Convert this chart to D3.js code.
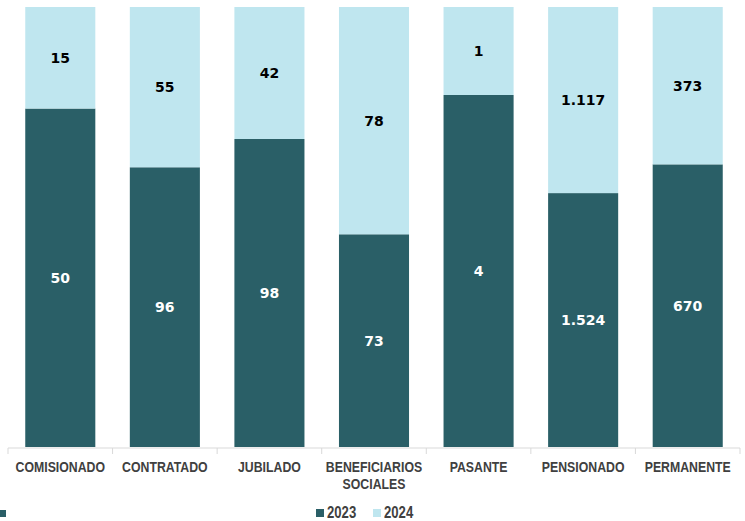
<!DOCTYPE html>
<html>
<head>
<meta charset="utf-8">
<script src="https://cdn.jsdelivr.net/npm/d3@7"></script>
<style>
  body { margin: 0; background: #fff; }
  svg { display: block; }
</style>
</head>
<body>
<script>
var width = 745;
var height = 521;

var categories = ['COMISIONADO', 'CONTRATADO', 'JUBILADO', 'BENEFICIARIOS SOCIALES', 'PASANTE', 'PENSIONADO', 'PERMANENTE'];
var values2023 = [50, 96, 98, 73, 4, 1524, 670];
var values2024 = [15, 55, 42, 78, 1, 1117, 373];
var seriesNames = ['2023', '2024'];
var colors = ['#2a5f67', '#bfe6ef'];

var fmt = function(v) { return d3.format(',')(v).replace(/,/g, '.'); };

var rows = categories.map(function(c, i) {
  return { cat: c, '2023': values2023[i], '2024': values2024[i] };
});

var stack = d3.stack().keys(seriesNames).offset(d3.stackOffsetExpand);
var layers = stack(rows);

var svg = d3.select('body').append('svg')
  .attr('width', width)
  .attr('height', height);

var x = d3.scaleBand()
  .domain(categories)
  .range([8, 740])
  .paddingInner(0.33)
  .paddingOuter(0.165);

var y = d3.scaleLinear()
  .domain([0, 1])
  .range([447, 7]);

// bars
var layer = svg.selectAll('g.layer')
  .data(layers)
  .enter().append('g')
  .attr('class', 'layer')
  .attr('fill', function(d, i) { return colors[i]; });

layer.selectAll('rect')
  .data(function(d) { return d; })
  .enter().append('rect')
  .attr('x', function(d) { return x(d.data.cat); })
  .attr('width', x.bandwidth())
  .attr('y', function(d) { return y(d[1]); })
  .attr('height', function(d) { return y(d[0]) - y(d[1]); });

// data labels
layers.forEach(function(l, li) {
  svg.append('g').selectAll('text')
    .data(l)
    .enter().append('text')
    .attr('x', function(d) { return x(d.data.cat) + x.bandwidth() / 2; })
    .attr('y', function(d) { return (y(d[0]) + y(d[1])) / 2; })
    .attr('dy', '0.38em')
    .attr('text-anchor', 'middle')
    .style('font-family', '"DejaVu Sans", sans-serif')
    .style('font-weight', 'bold')
    .style('font-size', '14px')
    .style('fill', li === 0 ? '#ffffff' : '#000000')
    .text(function(d) { return fmt(d.data[l.key]); });
});

// x axis
var step = x.step();
var axisY = 448;
svg.append('line')
  .attr('x1', 8).attr('x2', 740)
  .attr('y1', axisY).attr('y2', axisY)
  .attr('stroke', '#d9d9d9').attr('stroke-width', 1);

var bounds = d3.range(categories.length + 1).map(function(i) { return 8 + i * step; });
svg.append('g').selectAll('line')
  .data(bounds)
  .enter().append('line')
  .attr('x1', function(d) { return d; }).attr('x2', function(d) { return d; })
  .attr('y1', axisY).attr('y2', axisY + 6)
  .attr('stroke', '#d9d9d9').attr('stroke-width', 1);

// narrow look: squeeze a normal bold face horizontally
var labelFont = '"Liberation Sans", Arial, sans-serif';
var squeeze = 0.82;

var catLabel = svg.append('g').selectAll('g')
  .data(categories)
  .enter().append('g')
  .attr('transform', function(d) {
    return 'translate(' + (x(d) + x.bandwidth() / 2) + ',472) scale(' + squeeze + ',1)';
  })
  .append('text')
  .attr('text-anchor', 'middle')
  .style('font-family', labelFont)
  .style('font-weight', 'bold')
  .style('font-size', '15px')
  .style('fill', '#404040');

catLabel.each(function(d) {
  var el = d3.select(this);
  d.split(' ').forEach(function(w, i) {
    el.append('tspan')
      .attr('x', 0)
      .attr('dy', i === 0 ? 0 : 17)
      .text(w);
  });
});

// legend
var legendItems = [
  { name: seriesNames[0], color: colors[0], x: 316 },
  { name: seriesNames[1], color: colors[1], x: 373 }
];
var legend = svg.append('g').selectAll('g')
  .data(legendItems)
  .enter().append('g')
  .attr('transform', function(d) { return 'translate(' + d.x + ',509)'; });

legend.append('rect')
  .attr('width', 8).attr('height', 8)
  .attr('fill', function(d) { return d.color; });

legend.append('g')
  .attr('transform', 'translate(11,9) scale(' + squeeze + ',1)')
  .append('text')
  .style('font-family', labelFont)
  .style('font-weight', 'bold')
  .style('font-size', '16px')
  .style('fill', '#404040')
  .text(function(d) { return d.name; });

// clipped legend marker at the left edge
svg.append('rect')
  .attr('x', 0).attr('y', 510)
  .attr('width', 6).attr('height', 7)
  .attr('fill', colors[0]);
</script>
</body>
</html>
